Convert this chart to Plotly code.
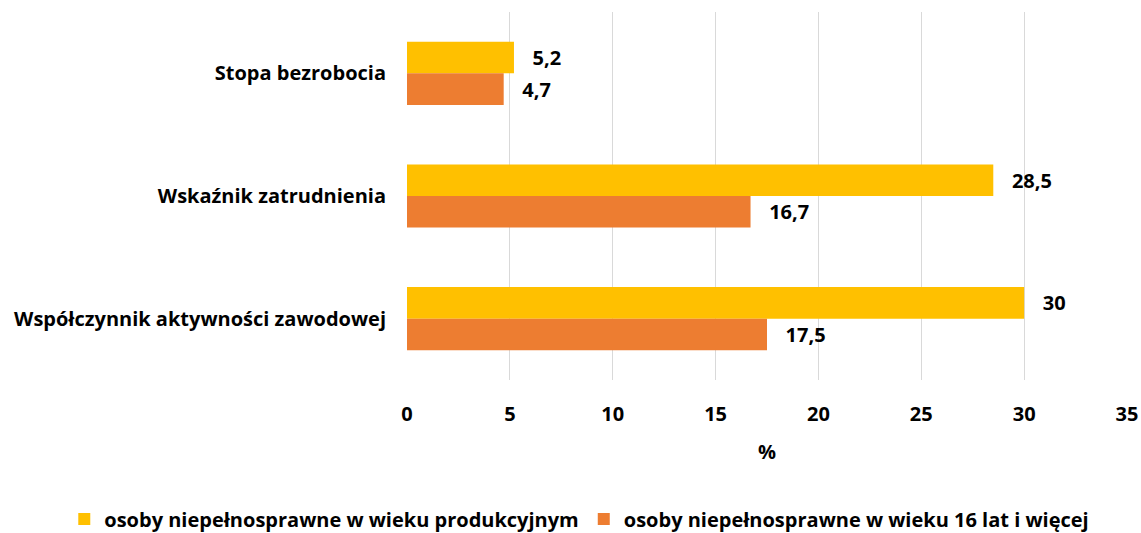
import plotly.graph_objects as go

categories = ["Stopa bezrobocia", "Wskaźnik zatrudnienia", "Współczynnik aktywności zawodowej"]
series_names = ["osoby niepełnosprawne w wieku produkcyjnym", "osoby niepełnosprawne w wieku 16 lat i więcej"]
values_prod = [5.2, 28.5, 30]
values_16 = [4.7, 16.7, 17.5]
colors = ["#FFC000", "#ED7D31"]
tick_vals = [0, 5, 10, 15, 20, 25, 30, 35]

FONT = "Open Sans"
FS = 20

def fmt(v):
    s = ("%g" % v).replace(".", ",")
    return "   " + s

fig = go.Figure()
for name, vals, col in zip(series_names, [values_prod, values_16], colors):
    fig.add_trace(go.Bar(
        y=categories, x=vals, name=name, orientation="h",
        marker=dict(color=col, line=dict(width=0)),
        text=[fmt(v) for v in vals], textposition="outside",
        textfont=dict(family=FONT, size=FS, color="#000000", weight="bold"),
        cliponaxis=False,
    ))

fig.update_layout(
    width=1141, height=533,
    margin=dict(l=407, r=14, t=12, b=153, autoexpand=False),
    paper_bgcolor="white", plot_bgcolor="white",
    barmode="group", bargap=0.485, bargroupgap=0,
    font=dict(family=FONT, size=FS, color="#000000", weight="bold"),
    showlegend=True,
    legend=dict(orientation="h", x=-0.476, xref="paper", xanchor="left",
                y=-0.3777, yref="paper", yanchor="middle",
                font=dict(family=FONT, size=FS, color="#000000", weight="bold"),
                traceorder="normal", tracegroupgap=0),
    xaxis=dict(range=[0, 35], tickvals=tick_vals, showgrid=True, automargin=False,
               gridcolor="#D9D9D9", gridwidth=1, zeroline=False,
               showline=False, ticks="outside", ticklen=16,
               tickcolor="rgba(0,0,0,0)",
               tickfont=dict(family=FONT, size=FS, color="#000000", weight="bold"),
               title=dict(text="%", standoff=18,
                          font=dict(family=FONT, size=FS, color="#000000", weight="bold"))),
    yaxis=dict(autorange="reversed", showgrid=False, showline=False, automargin=False,
               ticks="outside", ticklen=16, tickcolor="rgba(0,0,0,0)",
               tickfont=dict(family=FONT, size=FS, color="#000000", weight="bold")),
)

# remove the browser's default 8px body margin so the figure fills the window exactly
fig.write_html("out.html",
               config={"displayModeBar": False},
               post_script="document.body.style.margin='0';document.body.style.overflow='hidden';")
